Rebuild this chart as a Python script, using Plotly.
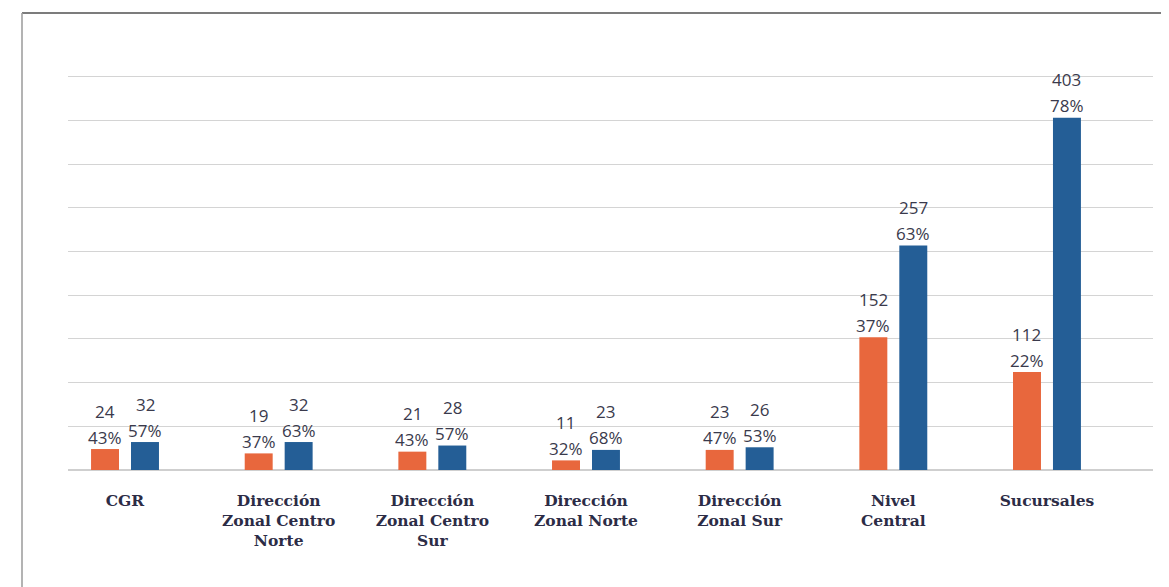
import plotly.graph_objects as go

categories = ["CGR", "Dirección<br>Zonal Centro<br>Norte", "Dirección<br>Zonal Centro<br>Sur",
              "Dirección<br>Zonal Norte", "Dirección<br>Zonal Sur", "Nivel<br>Central", "Sucursales"]
orange_vals = [24, 19, 21, 11, 23, 152, 112]
blue_vals = [32, 32, 28, 23, 26, 257, 403]
orange_pct = ["43%", "37%", "43%", "32%", "47%", "37%", "22%"]
blue_pct = ["57%", "63%", "57%", "68%", "53%", "63%", "78%"]

ORANGE = "#E8673D"
BLUE = "#245E96"
TXT = "#3a3a4c"
CAT = "#2c2c46"

fig = go.Figure()
fig.add_bar(x=categories, y=orange_vals, marker_color=ORANGE, marker_line_width=0, hoverinfo="skip")
fig.add_bar(x=categories, y=blue_vals, marker_color=BLUE, marker_line_width=0, hoverinfo="skip")

ann = []
for vals, pcts, xs in [(orange_vals, orange_pct, -20), (blue_vals, blue_pct, 20)]:
    for c, v, p in zip(categories, vals, pcts):
        ann.append(dict(x=c, y=v, xref="x", yref="y", text=p, showarrow=False,
                        xshift=xs, yshift=12, yanchor="middle",
                        font=dict(family="Open Sans", size=17, color=TXT)))
        ann.append(dict(x=c, y=v, xref="x", yref="y", text=str(v), showarrow=False,
                        xshift=xs, yshift=38, yanchor="middle",
                        font=dict(family="Open Sans", size=17, color=TXT)))

OFF = 8  # default page body margin
W, H = 1169 - OFF, 587 - OFF
L, T = 68 - OFF, 68 - OFF
R = W - (1153 - OFF)
B = H - (470 - OFF)
pw, ph = W - L - R, H - T - B
def px(x):
    return (x - OFF - L) / pw
def py(y):
    return (H - B - (y - OFF)) / ph

shapes = [
    dict(type="line", xref="paper", yref="paper", x0=px(22), x1=px(1180), y0=py(13), y1=py(13),
         line=dict(color="#505050", width=1.6)),
    dict(type="line", xref="paper", yref="paper", x0=px(22), x1=px(22), y0=py(13), y1=py(600),
         line=dict(color="#a0a0a0", width=1.6)),
]

fig.update_layout(
    width=W, height=H,
    margin=dict(l=L, r=R, t=T, b=B),
    paper_bgcolor="white", plot_bgcolor="white",
    barmode="group", bargap=0.48, bargroupgap=0.3,
    showlegend=False,
    annotations=ann, shapes=shapes,
    xaxis=dict(type="category", range=[-0.371, 6.69], showgrid=False, showline=False,
               ticks="", ticklabelstandoff=19,
               tickfont=dict(family="DejaVu Serif", size=15.5, color=CAT, weight="bold")),
    yaxis=dict(range=[0, 460], dtick=50, showticklabels=False, showgrid=True,
               gridcolor="#d4d4d4", gridwidth=1, zeroline=True, zerolinecolor="#cfcfcf",
               zerolinewidth=1.5, showline=False, ticks=""),
)
fig.write_html("out.html")
